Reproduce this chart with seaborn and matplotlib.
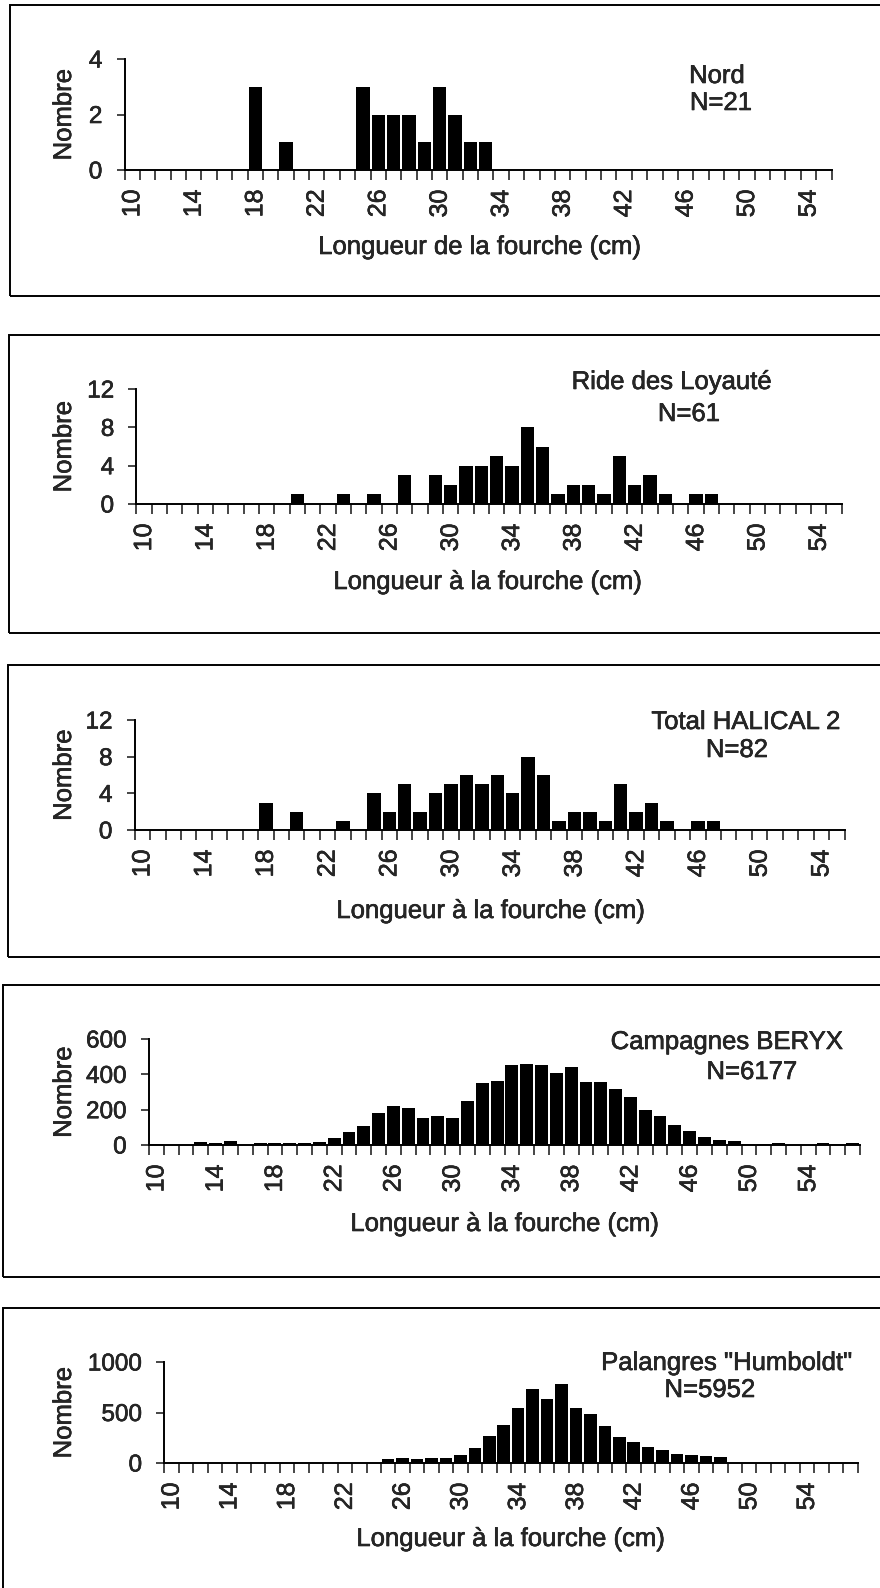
import numpy as np
import matplotlib
matplotlib.use("Agg")
import matplotlib.pyplot as plt
import matplotlib.patheffects as pe
import seaborn as sns

# length classes (cm)
lengths_46 = list(range(10, 56))
lengths_48 = list(range(10, 58))

# counts per 1 cm class
nord = [0, 0, 0, 0, 0, 0, 0, 0, 3, 0,          # 10-19
        1, 0, 0, 0, 0, 3, 2, 2, 2, 1,          # 20-29
        3, 2, 1, 1, 0, 0, 0, 0, 0, 0,          # 30-39
        0, 0, 0, 0, 0, 0, 0, 0, 0, 0,          # 40-49
        0, 0, 0, 0, 0, 0]                      # 50-55

loyaute = [0, 0, 0, 0, 0, 0, 0, 0, 0, 0,
           1, 0, 0, 1, 0, 1, 0, 3, 0, 3,
           2, 4, 4, 5, 4, 8, 6, 1, 2, 2,
           1, 5, 2, 3, 1, 0, 1, 1, 0, 0,
           0, 0, 0, 0, 0, 0]

halical = [0, 0, 0, 0, 0, 0, 0, 0, 3, 0,
           2, 0, 0, 1, 0, 4, 2, 5, 2, 4,
           5, 6, 5, 6, 4, 8, 6, 1, 2, 2,
           1, 5, 2, 3, 1, 0, 1, 1, 0, 0,
           0, 0, 0, 0, 0, 0]

beryx = [5, 1, 2, 15, 11, 21, 2, 11, 11, 11,
         13, 17, 38, 74, 110, 182, 222, 207, 152, 165,
         152, 250, 349, 364, 455, 459, 452, 408, 440, 357,
         359, 317, 271, 199, 163, 112, 82, 44, 30, 25,
         8, 6, 13, 2, 1, 11, 6, 11]

humboldt = [0, 0, 0, 0, 0, 0, 3, 3, 0, 0,
            0, 0, 0, 0, 0, 43, 47, 40, 50, 53,
            83, 150, 263, 377, 540, 730, 637, 783, 543, 483,
            363, 253, 210, 157, 133, 93, 77, 67, 63, 0,
            0, 0, 0, 0, 0, 0, 0, 0]

titles = ["Nord", "Ride des Loyauté", "Total HALICAL 2",
          "Campagnes BERYX", 'Palangres "Humboldt"']
n_labels = ["N=21", "N=61", "N=82", "N=6177", "N=5952"]
xlabels = ["Longueur de la fourche (cm)"] + ["Longueur à la fourche (cm)"] * 4
yticks = [[0, 2, 4], [0, 4, 8, 12], [0, 4, 8, 12], [0, 200, 400, 600], [0, 500, 1000]]

W, H = 880, 1588

sns.set_style("ticks")
plt.rcParams["font.family"] = ["Liberation Sans", "DejaVu Sans"]
# light stroke so the text has the weight of the scanned original
ink = [pe.withStroke(linewidth=0.4, foreground="black")]

fig = plt.figure(figsize=(W / 100, H / 100), dpi=100)

def fx(px):
    return px / W

def fy(py):
    return 1 - py / H

# panel layout in pixels: axes left/right/top/baseline, box left/top/bottom,
# title and N centres, xlabel centre-x / top
layout = [
    dict(ax=(124.6, 831.6, 59, 170), box=(10, 5, 296), t=(717, 76), n=(721, 103), xl=(480, 235)),
    dict(ax=(136.4, 841.8, 389, 504), box=(9, 335, 633), t=(672, 382), n=(689, 414), xl=(488, 570)),
    dict(ax=(134.7, 844.5, 720, 830), box=(8, 665, 957), t=(746, 722), n=(737, 750), xl=(491, 899)),
    dict(ax=(149, 860, 1039, 1145), box=(3, 985, 1277), t=(727, 1042), n=(752, 1072), xl=(505, 1212)),
    dict(ax=(164.4, 857.5, 1362, 1463), box=(3, 1308, 1600), t=(727, 1363), n=(710, 1390), xl=(511, 1527)),
]

series = [(lengths_46, nord), (lengths_46, loyaute), (lengths_46, halical),
          (lengths_48, beryx), (lengths_48, humboldt)]

for i, (lengths, counts) in enumerate(series):
    g = layout[i]
    left, right, top, base = g["ax"]
    ax = fig.add_axes([fx(left), fy(base), (right - left) / W, (base - top) / H])

    sns.barplot(x=lengths, y=counts, color="black", saturation=1, width=0.87,
                linewidth=0, ax=ax)

    n = len(lengths)
    ax.set_xlim(-0.5, n - 0.5)
    ax.set_ylim(0, yticks[i][-1])
    ax.set_yticks(yticks[i])
    ax.tick_params(axis="y", length=6, width=1.2, pad=10, labelsize=17.5, direction="out")

    ax.set_xticks(range(0, n, 4))
    ax.set_xticklabels([str(v) for v in lengths[::4]], rotation=90)
    ax.set_xticks(np.arange(-0.5, n, 1), minor=True)
    ax.tick_params(axis="x", which="major", length=0, pad=14, labelsize=18)
    ax.tick_params(axis="x", which="minor", length=7, width=1.2, direction="out")

    for s in ["top", "right"]:
        ax.spines[s].set_visible(False)
    for s in ["left", "bottom"]:
        ax.spines[s].set_linewidth(1.4)
        ax.spines[s].set_color("black")

    ax.set_ylabel("Nombre", fontsize=18.5)
    ax.yaxis.set_label_coords((76 - left) / (right - left), 0.5)
    ax.set_xlabel(xlabels[i], fontsize=18.5)
    xl_x, xl_y = g["xl"]
    ax.xaxis.set_label_coords((xl_x - left) / (right - left), (base - xl_y) / (base - top))

    for t in ax.get_xticklabels() + ax.get_yticklabels() + [ax.xaxis.label, ax.yaxis.label]:
        t.set_path_effects(ink)

    for txt, pos in [(titles[i], g["t"]), (n_labels[i], g["n"])]:
        fig.text(fx(pos[0]), fy(pos[1]), txt, ha="center", va="center",
                 fontsize=18.5, path_effects=ink)

    bl, bt, bb = g["box"]
    fig.add_artist(plt.Rectangle((fx(bl), fy(bb)), 1.1, (bb - bt) / H,
                                 transform=fig.transFigure, fill=False,
                                 edgecolor="black", linewidth=1.4, clip_on=False))

fig.savefig("out.png", dpi=100)
